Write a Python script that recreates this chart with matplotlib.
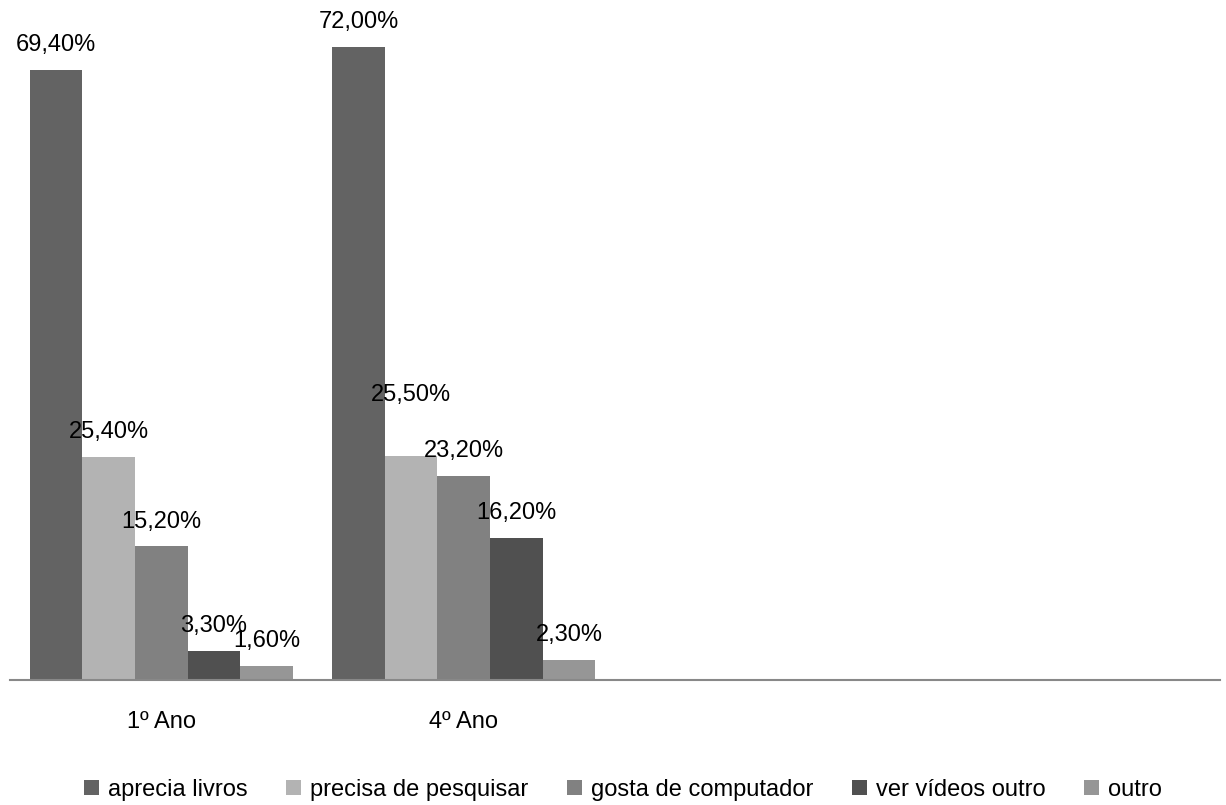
import numpy as np
import matplotlib.pyplot as plt
from matplotlib.patches import Patch

# data
groups = ['1º Ano', '4º Ano']
series = ['aprecia livros', 'precisa de pesquisar', 'gosta de computador',
          'ver vídeos outro', 'outro']
ano1 = [69.4, 25.4, 15.2, 3.3, 1.6]
ano4 = [72.0, 25.5, 23.2, 16.2, 2.3]
colors = ['#636363', '#b3b3b3', '#818181', '#505050', '#969696']

plt.rcParams['font.family'] = ['Liberation Sans', 'DejaVu Sans']
fs = 17

fig = plt.figure(figsize=(12.26, 8.05), dpi=100)
ax = fig.add_axes([10/1226, 1 - 680/805, 1210/1226, 660/805])

n_slots = 4          # the category axis has room for four groups
bw = 0.174
x = np.arange(len(groups))
values = np.array([ano1, ano4])

for i, name in enumerate(series):
    pos = x - 2 * bw + i * bw
    bars = ax.bar(pos, values[:, i], width=bw, color=colors[i], label=name)
    for b, v in zip(bars, values[:, i]):
        dy = 10
        if v == 25.5:
            dy = 36  # this label sits higher in the original
        ax.annotate(f'{v:.2f}%'.replace('.', ','),
                    (b.get_x() + b.get_width() / 2, v),
                    xytext=(0, dy), textcoords='offset points',
                    ha='center', va='bottom', fontsize=fs, color='black')

ax.set_xlim(-0.5, n_slots - 0.5)
ax.set_ylim(0, 75.1)
ax.set_xticks(x)
ax.set_xticklabels(groups, fontsize=fs)
ax.tick_params(axis='x', length=0, pad=22)
ax.set_yticks([])
for s in ['top', 'left', 'right']:
    ax.spines[s].set_visible(False)
ax.spines['bottom'].set_color('#888888')
ax.spines['bottom'].set_linewidth(1.5)

handles = [Patch(facecolor=c, edgecolor='none') for c in colors]
fig.legend(handles, series, loc='center', bbox_to_anchor=(623/1226, 1 - 790/805),
           ncol=5, frameon=False, fontsize=fs, handlelength=0.62, handleheight=0.62,
           handletextpad=0.38, columnspacing=1.65, borderpad=0)

fig.savefig('out.png', dpi=100)
